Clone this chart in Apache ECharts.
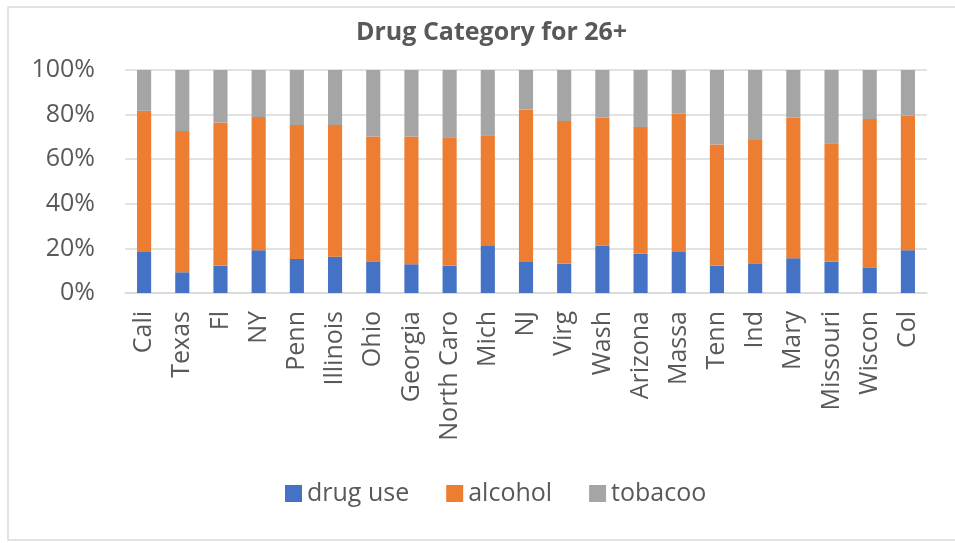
<!DOCTYPE html>
<html>
<head>
<meta charset="utf-8">
<style>
  html, body { margin: 0; padding: 0; background: #ffffff; }
  #chart { width: 955px; height: 543px; }
</style>
<script src="https://cdn.jsdelivr.net/npm/echarts@6/dist/echarts.min.js"></script>
</head>
<body>
<div id="chart"></div>
<script>
// States on the category axis
const states = ['Cali', 'Texas', 'Fl', 'NY', 'Penn', 'Illinois', 'Ohio', 'Georgia', 'North Caro', 'Mich', 'NJ',
  'Virg', 'Wash', 'Arizona', 'Massa', 'Tenn', 'Ind', 'Mary', 'Missouri', 'Wiscon', 'Col'];

// Share of each category (percent of total, 26+ age group)
const drugUse = [18.4, 9.3, 12.3, 19.2, 15.3, 16.3, 14.2, 12.9, 12.3, 21.1, 13.9,
  13.2, 21.3, 17.7, 18.7, 12.3, 13.3, 15.6, 14.1, 11.5, 19.2];
const alcohol = [63.3, 63.3, 64.2, 59.7, 60.0, 59.0, 56.0, 57.3, 57.5, 49.6, 68.3,
  63.9, 57.4, 56.7, 61.7, 54.3, 55.3, 63.1, 53.1, 66.5, 60.4];
const tobacoo = [18.3, 27.4, 23.5, 21.1, 24.7, 24.7, 29.8, 29.8, 30.2, 29.3, 17.8,
  22.9, 21.3, 25.6, 19.6, 33.4, 31.4, 21.3, 32.8, 22.0, 20.4];

const yTicks = [0, 20, 40, 60, 80, 100];

const FONT = '"Open Sans", "Noto Sans", sans-serif';
const TEXT = '#595959';

const chart = echarts.init(document.getElementById('chart'));

function barSeries(name, data, color) {
  return {
    name: name,
    type: 'bar',
    stack: 'total',
    data: data,
    barWidth: '37%',
    itemStyle: { color: color },
    emphasis: { disabled: true }
  };
}

chart.setOption({
  animation: false,
  backgroundColor: '#ffffff',
  graphic: [{
    type: 'rect',
    shape: { x: 8, y: 7, width: 960, height: 533 },
    style: { fill: 'none', stroke: '#d9d9d9', lineWidth: 1.5 },
    silent: true
  }],
  title: {
    text: 'Drug Category for 26+',
    left: 351,
    top: 15,
    textStyle: { fontFamily: FONT, fontSize: 25, fontWeight: 'bold', color: TEXT }
  },
  legend: {
    bottom: 32,
    left: 280,
    itemWidth: 17,
    itemHeight: 17,
    itemGap: 37,
    icon: 'rect',
    textStyle: { fontFamily: FONT, fontSize: 25, color: TEXT },
    data: ['drug use', 'alcohol', 'tobacoo']
  },
  grid: { left: 125, right: 28, top: 70, bottom: 250, containLabel: false },
  xAxis: {
    type: 'category',
    data: states,
    axisLine: { lineStyle: { color: '#d9d9d9', width: 1.5 } },
    axisTick: { show: false },
    axisLabel: {
      rotate: 90,
      interval: 0,
      margin: 18,
      fontFamily: FONT,
      fontSize: 25,
      color: TEXT
    }
  },
  yAxis: {
    type: 'value',
    min: yTicks[0],
    max: yTicks[yTicks.length - 1],
    interval: 20,
    axisLine: { show: false },
    axisTick: { show: false },
    splitLine: { lineStyle: { color: '#d9d9d9', width: 1.5 } },
    axisLabel: {
      margin: 30,
      fontFamily: FONT,
      fontSize: 25,
      color: TEXT,
      formatter: v => v + '%'
    }
  },
  series: [
    barSeries('drug use', drugUse, '#4472C4'),
    barSeries('alcohol', alcohol, '#ED7D31'),
    barSeries('tobacoo', tobacoo, '#A5A5A5')
  ]
});
</script>
</body>
</html>
